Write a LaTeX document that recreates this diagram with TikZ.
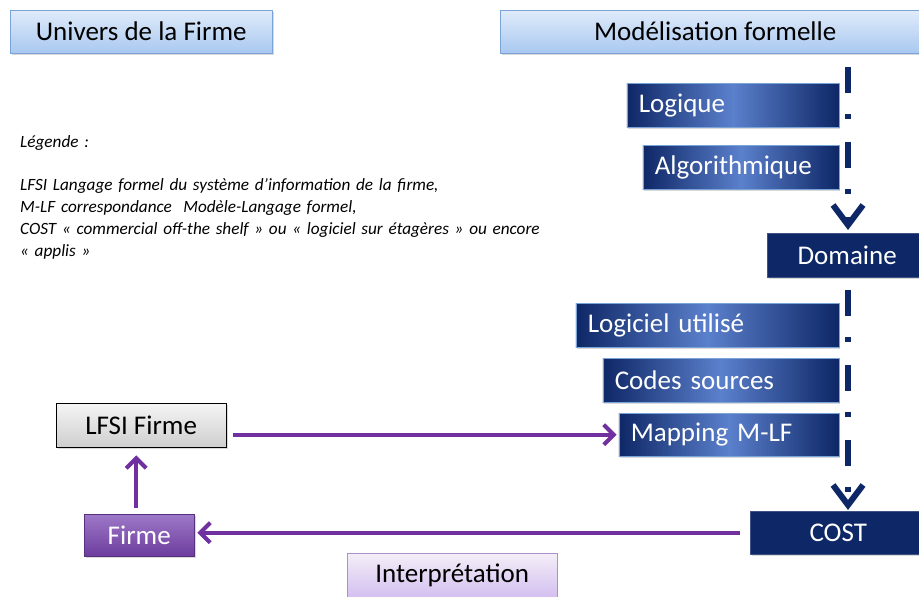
\documentclass[tikz,border=0pt]{standalone}
\usepackage{fontspec}
\setmainfont{Carlito}
\usetikzlibrary{arrows.meta,positioning,shadows}

\definecolor{hdrtop}{HTML}{E0EBFA}
\definecolor{hdrbot}{HTML}{A9C8F0}
\definecolor{hdrline}{HTML}{7AA3D8}
\definecolor{navy}{HTML}{0E2766}
\definecolor{navymid}{HTML}{5B80CC}
\definecolor{violet}{HTML}{7030A0}
\definecolor{firmtop}{HTML}{9D78C8}
\definecolor{firmbot}{HTML}{6D3D9E}
\definecolor{lilac}{HTML}{D4BFF0}

\begin{document}
\begin{tikzpicture}[
  x=1pt, y=-1pt,
  >=Stealth,
  every node/.style={font=\fontsize{27}{32}\selectfont, inner sep=0pt},
  shade/.style={drop shadow={opacity=0.3, shadow xshift=1.5pt, shadow yshift=-2pt}},
  hdr/.style={draw=hdrline, top color=hdrtop, bottom color=hdrbot, shade, minimum height=43pt, anchor=north west},
  stage/.style={draw=hdrline, left color=navy, right color=navy, middle color=navymid, text=white, shade,
    minimum height=44pt, inner xsep=12pt, anchor=north east},
  block/.style={draw=navy!80!white, fill=navy, text=white, shade, minimum height=43pt, anchor=north west},
  firm/.style={line width=4pt, violet, -{Straight Barb[length=10pt,width=20pt]}},
  link/.style={line width=6pt, navy, dash pattern=on 26pt off 21pt on 5pt off 23pt,
    -{Straight Barb[length=20pt,width=30pt]}}
]
\clip (0,0) rectangle (919,597);

\node[hdr, minimum width=262pt] (univers) at (10,10) {Univers de la Firme};
\node[hdr, minimum width=430pt] (modele) at (500,10) {Modélisation formelle};

\node[anchor=north west, text width=600pt, font=\fontsize{17.2}{21.8}\selectfont\itshape] (legende) at (20,135)
  {Légende :\\[21.8pt]
   LFSI Langage formel du système d’information de la firme,\\
   M-LF correspondance~ Modèle-Langage formel,\\
   COST « commercial off-the shelf » ou « logiciel sur étagères » ou encore\\
   « applis »};

\node[stage, text width=188pt] (logique) at (839,83) {Logique};
\node[stage, text width=172pt] (algo) at (839,145) {Algorithmique};
\node[block, minimum width=160pt, minimum height=44pt] (domaine) at (767,233) {Domaine};
\node[stage, text width=239pt] (logiciel) at (839,303) {Logiciel utilisé};
\node[stage, text width=212pt] (codes) at (839,358) {Codes sources};
\node[stage, text width=196pt, minimum height=43pt] (mapping) at (839,413) {Mapping M-LF};
\node[block, minimum width=176pt] (cost) at (750,511) {COST};

\node[draw=black, top color=gray!8, bottom color=gray!38, shade, minimum width=170pt, minimum height=44pt,
  anchor=north west] (lfsi) at (56,403) {LFSI Firme};
\node[draw=firmbot!80!black, top color=firmtop, bottom color=firmbot, text=white, shade,
  minimum width=110pt, minimum height=42pt, anchor=north west] (firme) at (84,514) {Firme};
\node[draw=violet!55, top color=violet!8, bottom color=lilac, minimum width=210pt, minimum height=44pt,
  anchor=north west] (interp) at (347,553) {Interprétation};

\coordinate (top1) at (848,67);
\coordinate (top2) at (848,290);
\draw[link, shorten >=3pt] (top1) -- (top1 |- domaine.north);
\draw[link, shorten >=1pt] (top2) -- (top2 |- cost.north);

\draw[firm, shorten <=7pt, shorten >=2pt] (lfsi.east |- mapping.west) -- (mapping.west);
\draw[firm, shorten <=10pt, shorten >=3pt] (cost.west) -- (cost.west -| firme.east);
\draw[firm, shorten <=6pt, shorten >=8pt] ([xshift=-3pt]firme.north) -- ([xshift=-3pt]firme.north |- lfsi.south);
\end{tikzpicture}
\end{document}
